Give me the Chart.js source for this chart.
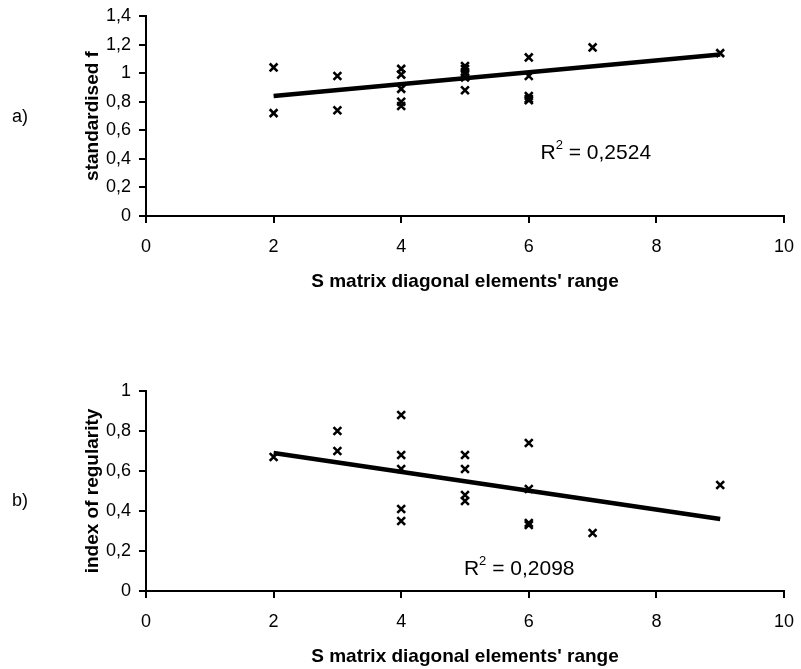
<!DOCTYPE html>
<html>
<head>
<meta charset="utf-8">
<script src="https://cdn.jsdelivr.net/npm/chart.js@4.4.1/dist/chart.umd.min.js"></script>
<style>
  body { margin: 0; background: #fff; font-family: "Liberation Sans", Arial, sans-serif; }
  #wrap { position: relative; width: 801px; height: 669px; }
  .panel { position: absolute; left: 0; width: 801px; }
  .tag { position: absolute; left: 12px; font-size: 18px; color: #000; }
</style>
</head>
<body>
<div id="wrap">
  <div class="panel" style="top:0;height:294px"><canvas id="chartA"></canvas></div>
  <div class="panel" style="top:294px;height:375px"><canvas id="chartB"></canvas></div>
  <div class="tag" style="top:106px">a)</div>
  <div class="tag" style="top:490px">b)</div>
</div>
<script>
// --- data ---
const xTitle = "S matrix diagonal elements' range";

// a) standardised f
const xA = [2, 2, 3, 3, 4, 4, 4, 4, 4, 5, 5, 5, 5, 5, 6, 6, 6, 6, 6, 7, 9];
const yA = [1.04, 0.72, 0.98, 0.74, 1.03, 0.99, 0.89, 0.80, 0.77, 1.05, 1.03, 1.00, 0.97, 0.88, 1.11, 0.98, 0.84, 0.82, 0.81, 1.18, 1.14];
const trendXA = [2, 9];
const trendYA = [0.84, 1.13];
const r2A = '0,2524';
const r2PosA = [7.05, 0.44];

// b) index of regularity
const xB = [2, 3, 3, 4, 4, 4, 4, 4, 5, 5, 5, 5, 6, 6, 6, 6, 7, 9];
const yB = [0.67, 0.80, 0.70, 0.88, 0.68, 0.61, 0.41, 0.35, 0.68, 0.61, 0.48, 0.45, 0.74, 0.51, 0.34, 0.33, 0.29, 0.53];
const trendXB = [2, 9];
const trendYB = [0.69, 0.36];
const r2B = '0,2098';
const r2PosB = [5.85, 0.11];

const FONT = '"Liberation Sans", Arial, sans-serif';

const fmt = v => {
    const r = Math.round(v * 10) / 10;
    return Number.isInteger(r) ? String(r) : r.toFixed(1).replace('.', ',');
};

// draws "R² = ..." at a data position
const r2Plugin = {
    id: 'r2label',
    afterDatasetsDraw(chart, args, opts) {
        const { ctx, scales } = chart;
        const px = scales.x.getPixelForValue(opts.pos[0]);
        const py = scales.y.getPixelForValue(opts.pos[1]);
        ctx.save();
        ctx.fillStyle = '#000';
        ctx.textBaseline = 'middle';
        ctx.font = `21px ${FONT}`;
        const wR = ctx.measureText('R').width;
        const rest = ' = ' + opts.text;
        const wRest = ctx.measureText(rest).width;
        ctx.font = `13px ${FONT}`;
        const w2 = ctx.measureText('2').width;
        let x = px - (wR + w2 + wRest) / 2;
        ctx.font = `21px ${FONT}`;
        ctx.fillText('R', x, py);
        ctx.font = `13px ${FONT}`;
        ctx.fillText('2', x + wR, py - 8);
        ctx.font = `21px ${FONT}`;
        ctx.fillText(rest, x + wR + w2, py);
        ctx.restore();
    }
};

function makeChart(id, xs, ys, tx, ty, yMax, yLabel, r2, r2Pos, topPad) {
    const pts = xs.map((x, i) => ({ x: x, y: ys[i] }));
    const trend = tx.map((x, i) => ({ x: x, y: ty[i] }));
    const axisGrid = { display: true, drawOnChartArea: false, drawTicks: true, tickLength: 7, color: '#000', lineWidth: 2 };
    return new Chart(document.getElementById(id), {
        type: 'scatter',
        data: {
            datasets: [
                { data: pts, pointStyle: 'crossRot', pointRadius: 5.5, borderColor: '#000', borderWidth: 2.6, pointHoverRadius: 5.5 },
                { type: 'line', data: trend, showLine: true, borderColor: '#000', borderWidth: 4.5, pointRadius: 0, fill: false }
            ]
        },
        options: {
            responsive: true, maintainAspectRatio: false, animation: false,
            layout: { padding: { left: 0, top: topPad, right: 17, bottom: 0 } },
            plugins: { legend: { display: false }, tooltip: { enabled: false }, r2label: { text: r2, pos: r2Pos } },
            scales: {
                x: {
                    type: 'linear', min: 0, max: 10,
                    ticks: { stepSize: 2, color: '#000', font: { family: FONT, size: 18 }, padding: 13, maxRotation: 0 },
                    grid: axisGrid, border: { color: '#000', width: 2 },
                    title: { display: true, text: xTitle, color: '#000', font: { family: FONT, size: 19, weight: 'bold' }, padding: { top: 0, bottom: 1 } },
                    afterFit: s => { s.height = 78; s.paddingLeft = 0; s.paddingRight = 0; }
                },
                y: {
                    min: 0, max: yMax,
                    ticks: { stepSize: 0.2, color: '#000', font: { family: FONT, size: 18 }, padding: 8, callback: fmt },
                    grid: axisGrid, border: { color: '#000', width: 2 },
                    title: { display: true, text: yLabel, color: '#000', font: { family: FONT, size: 19, weight: 'bold' }, padding: { top: 81, bottom: 0 } },
                    afterFit: s => { s.width = 146; s.paddingTop = 0; s.paddingBottom = 0; }
                }
            }
        },
        plugins: [r2Plugin]
    });
}

makeChart('chartA', xA, yA, trendXA, trendYA, 1.4, 'standardised f', r2A, r2PosA, 16);
makeChart('chartB', xB, yB, trendXB, trendYB, 1, 'index of regularity', r2B, r2PosB, 97);
</script>
</body>
</html>
